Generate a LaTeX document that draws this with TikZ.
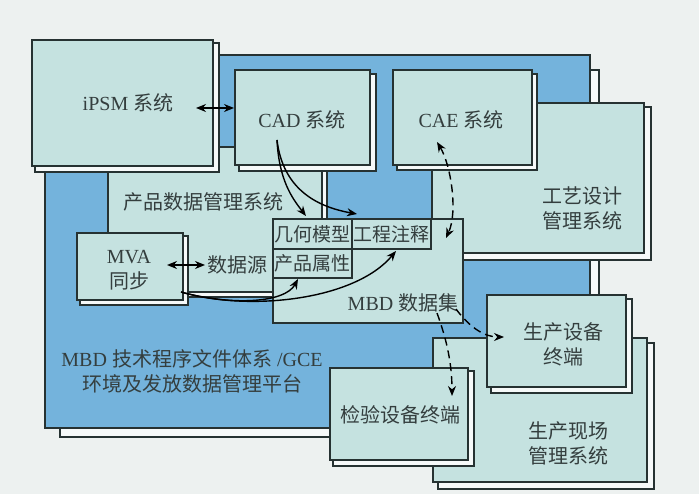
\documentclass[tikz,border=0pt]{standalone}
\usepackage{fontspec}
\setmainfont{Liberation Serif}
\newfontfamily\cjk{Noto Sans CJK SC}
\usetikzlibrary{arrows.meta}
\definecolor{bgC}{HTML}{EDF1F0}
\definecolor{blueC}{HTML}{74B3DC}
\definecolor{tealC}{HTML}{C5E2E0}
\definecolor{lineC}{HTML}{263232}
\definecolor{txtC}{HTML}{343E3E}
\definecolor{shC}{HTML}{F6F9F9}
\tikzset{
  mbox/.style={draw=lineC, line width=1.3pt, inner sep=0pt, outer sep=0pt},
  shbox/.style={draw=lineC, fill=shC, line width=1.3pt, inner sep=0pt, outer sep=0pt},
  lbl/.style={text=txtC, font=\fontsize{20}{25}\selectfont, align=center, inner sep=0pt},
  celllbl/.style={text=txtC, font=\cjk\fontsize{19}{23}\selectfont, inner sep=0pt},
  arr/.style={-{Stealth[length=10pt,width=8pt]}, line width=1.4pt, draw=black},
  darr/.style={{Stealth[length=10pt,width=8pt]}-{Stealth[length=10pt,width=8pt]}, line width=1.4pt, draw=black},
  dsh/.style={dash pattern=on 8pt off 5pt}
}
% name, x1, y1, x2, y2, fill, shadow tl offset, shadow br offset
\newcommand\panel[8]{%
  \node[shbox, minimum width={(#4-#2-#7+#8)*1pt}, minimum height={(#5-#3-#7+#8)*1pt}, anchor=north west] at (#2+#7,#3+#7) {};
  \node[mbox, fill=#6, minimum width={(#4-#2)*1pt}, minimum height={(#5-#3)*1pt}, anchor=north west] (#1) at (#2,#3) {};
}
\begin{document}
\begin{tikzpicture}[x=1pt,y=-1pt]
\fill[bgC] (0,0) rectangle (699,494);
\useasboundingbox (0,0) rectangle (699,494);
% platform
\panel{plat}{45}{55}{590}{428}{blueC}{15}{9}
% PDM
\panel{pdm}{108}{147}{322}{292}{tealC}{4}{5}
% upper systems
\panel{ipsm}{32}{40}{213}{166}{tealC}{3}{6}
\panel{cad}{235}{70}{370}{165}{tealC}{4}{6}
\panel{gyd}{432}{103}{644}{253}{tealC}{4}{7}
\panel{cae}{393}{70}{532}{165}{tealC}{4}{5}
% MVA
\panel{mva}{77}{233}{183}{300}{tealC}{3}{5}
% MBD dataset
\node[mbox, fill=tealC, minimum width=190pt, minimum height=104pt, anchor=north west] (mbd) at (273,219) {};
\node[mbox, minimum width=79pt, minimum height=30pt, anchor=north west] (jhmx) at (273,219) {};
\node[mbox, minimum width=79pt, minimum height=30pt, anchor=north west] (gczs) at (352,219) {};
\node[mbox, minimum width=79pt, minimum height=29pt, anchor=north west] (cpsx) at (273,249) {};
% production
\panel{scxc}{433}{338}{647}{482}{tealC}{5}{7}
\panel{scsb}{487}{295}{626}{387}{tealC}{4}{6}
\panel{jysb}{330}{368}{468}{460}{tealC}{3}{6}
% labels
\node[lbl] (tipsm) at (128,103) {iPSM {\cjk 系统}};
\node[lbl] (tcad) at (302,120) {CAD {\cjk 系统}};
\node[lbl] (tcae) at (461,120) {CAE {\cjk 系统}};
\node[lbl] (tgyd) at (582,208) {\cjk 工艺设计\\\cjk 管理系统};
\node[lbl] (tpdm) at (203,202) {\cjk 产品数据管理系统};
\node[lbl] (tmva) at (129,270) {MVA\\{\cjk 同步}};
\node[lbl] (tsjy) at (237,265) {\cjk 数据源};
\node[celllbl] at (jhmx.center) {几何模型};
\node[celllbl] at (gczs.center) {工程注释};
\node[celllbl] at (cpsx.center) {产品属性};
\node[lbl] (tmbd) at (403,303) {MBD {\cjk 数据集}};
\node[lbl] (tplat) at (192,371) {MBD {\cjk 技术程序文件体系} /GCE\\{\cjk 环境及发放数据管理平台}};
\node[lbl] (tscsb) at (563,344) {\cjk 生产设备\\\cjk 终端};
\node[lbl] (tjysb) at (400,415) {\cjk 检验设备终端};
\node[lbl] (tscxc) at (568,443) {\cjk 生产现场\\\cjk 管理系统};
% connector endpoints
\coordinate (a1) at (196,108); \coordinate (a2) at (234,108);
\coordinate (c0) at (277,140);
\coordinate (c1) at (306,216);
\coordinate (c2) at (357,214);
\coordinate (e1) at (437,142); \coordinate (e2) at (446,238);
\coordinate (m0) at (181,292);
\coordinate (m1) at (298,279);
\coordinate (m2) at (396,251);
\coordinate (d1) at (167,265); \coordinate (d2) at (205,265);
\coordinate (p0) at (456,309); \coordinate (p1) at (504,337);
\coordinate (q0) at (437,313); \coordinate (q1) at (452,396);
% connectors
\draw[darr] (a1) -- (a2);
\draw[darr] (d1) -- (d2);
\draw[arr] (c0) .. controls (279,180) and (292,198) .. (c1);
\draw[arr] (c0) .. controls (283,190) and (318,207) .. (c2);
\draw[darr, dsh] (e1) .. controls (451,165) and (458,212) .. (e2);
\draw[arr] (m0) .. controls (232,306) and (285,303) .. (m1);
\draw[arr] (m0) .. controls (250,312) and (355,300) .. (m2);
\draw[arr, dsh] (p0) .. controls (470,328) and (485,337) .. (p1);
\draw[arr, dsh] (q0) .. controls (445,335) and (452,360) .. (q1);
\end{tikzpicture}
\end{document}
